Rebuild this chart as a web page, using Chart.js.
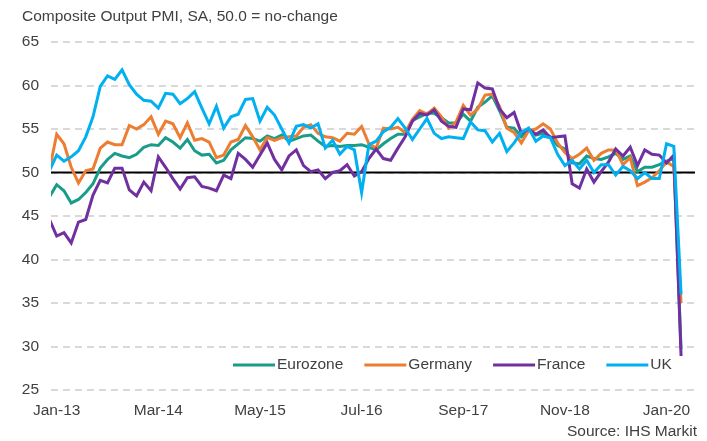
<!DOCTYPE html>
<html><head><meta charset="utf-8">
<script src="https://cdn.jsdelivr.net/npm/chart.js@4.4.1/dist/chart.umd.min.js"></script>
<style>html,body{margin:0;padding:0;background:#fff;}canvas{display:block;}</style>
</head><body>
<canvas id="c" width="707" height="441"></canvas>
<script>
const months = [
  'Dec-12',
  'Jan-13','Feb-13','Mar-13','Apr-13','May-13','Jun-13','Jul-13','Aug-13','Sep-13','Oct-13','Nov-13','Dec-13',
  'Jan-14','Feb-14','Mar-14','Apr-14','May-14','Jun-14','Jul-14','Aug-14','Sep-14','Oct-14','Nov-14','Dec-14',
  'Jan-15','Feb-15','Mar-15','Apr-15','May-15','Jun-15','Jul-15','Aug-15','Sep-15','Oct-15','Nov-15','Dec-15',
  'Jan-16','Feb-16','Mar-16','Apr-16','May-16','Jun-16','Jul-16','Aug-16','Sep-16','Oct-16','Nov-16','Dec-16',
  'Jan-17','Feb-17','Mar-17','Apr-17','May-17','Jun-17','Jul-17','Aug-17','Sep-17','Oct-17','Nov-17','Dec-17',
  'Jan-18','Feb-18','Mar-18','Apr-18','May-18','Jun-18','Jul-18','Aug-18','Sep-18','Oct-18','Nov-18','Dec-18',
  'Jan-19','Feb-19','Mar-19','Apr-19','May-19','Jun-19','Jul-19','Aug-19','Sep-19','Oct-19','Nov-19','Dec-19',
  'Jan-20','Feb-20','Mar-20'
];
const tickLabels = ['Jan-13','Mar-14','May-15','Jul-16','Sep-17','Nov-18','Jan-20'];

const eurozone = [47.2,
  48.6,47.9,46.5,46.9,47.7,48.7,50.5,51.5,52.2,51.9,51.7,52.1,
  52.9,53.2,53.1,54.0,53.5,52.8,53.8,52.5,52.0,52.1,51.1,51.4,
  52.6,53.3,54.0,53.9,53.6,54.2,53.9,54.3,53.6,53.9,54.2,54.3,
  53.6,53.0,53.1,53.0,53.1,53.1,53.2,52.9,52.6,53.3,53.9,54.4,
  54.4,56.0,56.4,56.8,56.8,56.3,55.7,55.7,56.7,55.9,57.5,58.1,
  58.8,57.1,55.2,55.1,54.1,54.9,54.3,54.5,54.1,53.1,52.7,51.1,
  51.0,51.9,51.6,51.5,51.8,52.2,51.5,51.9,50.1,50.6,50.6,50.9,
  51.3,51.6,29.7];
const germany = [50.3,
  54.4,53.3,50.6,48.8,50.2,50.4,52.8,53.5,53.2,53.2,55.4,55.0,
  55.5,56.4,54.4,55.9,55.6,54.0,55.7,53.7,53.9,53.5,51.7,52.0,
  53.5,53.8,55.4,54.1,52.6,54.0,53.7,54.0,54.1,54.2,55.2,55.5,
  54.5,54.1,54.0,53.6,54.5,54.4,55.3,53.3,52.8,55.1,55.0,55.2,
  54.6,56.1,57.1,56.7,57.4,56.4,55.1,55.8,57.7,56.6,57.3,58.9,
  59.0,57.6,55.1,54.6,53.4,54.8,55.0,55.6,55.0,53.4,52.3,51.6,
  52.1,52.8,51.4,52.2,52.6,52.6,50.9,51.7,48.5,48.9,49.4,50.2,
  51.2,50.7,35.0];
const france = [44.6,
  42.7,43.1,41.9,44.3,44.6,47.4,49.1,48.8,50.5,50.5,48.0,47.3,
  48.9,47.9,51.8,50.6,49.3,48.1,49.4,49.5,48.4,48.2,47.9,49.7,
  49.3,52.2,51.5,50.6,52.0,53.4,51.5,50.3,51.9,52.6,50.8,50.1,
  50.3,49.3,50.0,50.2,50.9,49.6,50.1,51.6,52.7,51.6,51.4,52.8,
  54.1,55.9,56.8,56.6,57.2,55.9,55.3,55.2,57.3,57.2,60.3,59.7,
  59.6,57.3,56.3,56.9,54.5,55.0,54.4,54.9,54.0,54.1,54.2,48.7,
  48.2,50.4,48.9,50.1,51.2,52.7,51.9,52.9,50.8,52.6,52.1,52.0,
  51.1,52.0,28.9];
const uk = [50.2,
  52.0,51.3,51.8,52.5,54.1,56.4,59.9,61.1,60.7,61.8,60.1,59.0,
  58.3,58.2,57.4,59.1,59.0,57.9,58.5,59.3,57.4,55.6,57.6,55.1,
  56.4,56.7,58.4,58.5,55.9,57.5,56.6,55.0,53.4,55.3,55.5,55.1,
  55.6,52.8,53.7,52.1,53.0,52.6,47.7,53.2,53.6,54.7,55.2,56.2,
  55.1,53.8,55.0,56.2,54.5,53.9,54.1,54.0,53.9,55.8,54.9,54.8,
  53.5,54.5,52.4,53.4,54.6,55.1,53.6,54.2,54.0,52.1,50.8,51.4,
  50.4,51.4,50.0,50.9,50.9,49.7,50.7,50.2,49.3,50.0,49.3,49.3,
  53.3,53.0,36.0];

const seriesNames = ['Eurozone','Germany','France','UK'];
const seriesValues = [eurozone, germany, france, uk];
const seriesColors = ['#1A9C8A','#ED7D31','#7030A0','#00B0F0'];
const titleText = 'Composite Output PMI, SA, 50.0 = no-change';
const sourceText = 'Source: IHS Markit';
const FONT_FAMILY = '"Liberation Sans", Arial, Helvetica, sans-serif';
const FONT_SIZE = 15.5;
const TEXT_COLOR = '#404040';

const textPlugin = {
  id: 'texts',
  beforeDatasetsDraw(chart) {
    const {ctx, chartArea, scales} = chart;
    const y = scales.y.getPixelForValue(50);
    ctx.save();
    ctx.strokeStyle = '#000000';
    ctx.lineWidth = 2;
    ctx.beginPath();
    ctx.moveTo(chartArea.left, y);
    ctx.lineTo(chartArea.right, y);
    ctx.stroke();
    ctx.restore();
  },
  afterDraw(chart) {
    const {ctx} = chart;
    ctx.save();
    ctx.font = FONT_SIZE + 'px ' + FONT_FAMILY;
    ctx.fillStyle = TEXT_COLOR;
    ctx.textBaseline = 'middle';
    ctx.textAlign = 'left';
    ctx.fillText(titleText, 22, 17);
    ctx.textAlign = 'right';
    ctx.fillText(sourceText, 697, 432);
    ctx.textAlign = 'left';
    let x = 233;
    const ly = 365;
    chart.data.datasets.forEach(ds => {
      ctx.strokeStyle = ds.borderColor;
      ctx.lineWidth = 3;
      ctx.beginPath();
      ctx.moveTo(x, ly);
      ctx.lineTo(x + 42, ly);
      ctx.stroke();
      ctx.fillStyle = TEXT_COLOR;
      ctx.fillText(ds.label, x + 44, ly);
      x += 44 + ctx.measureText(ds.label).width + 21;
    });
    ctx.restore();
  }
};

new Chart(document.getElementById('c'), {
  type: 'line',
  data: {
    datasets: seriesNames.map((name, k) => ({
      label: name,
      data: seriesValues[k].map((v, i) => ({x: i, y: v})),
      borderColor: seriesColors[k],
      backgroundColor: seriesColors[k],
      borderWidth: 3,
      pointRadius: 0,
      tension: 0,
      clip: 0,
      order: seriesNames.length - k
    }))
  },
  options: {
    responsive: false,
    animation: false,
    layout: {padding: {top: 42, right: 12, bottom: 0, left: 0}},
    plugins: {legend: {display: false}, tooltip: {enabled: false}, title: {display: false}},
    scales: {
      x: {
        type: 'linear',
        min: 0.215,
        max: 88.92,
        afterBuildTicks(scale) {
          scale.ticks = tickLabels.map(l => ({value: months.indexOf(l)}));
        },
        afterFit(scale) { scale.height = 51; },
        grid: {display: false, drawTicks: false},
        border: {display: false},
        ticks: {
          autoSkip: false, maxRotation: 0, padding: 11,
          color: TEXT_COLOR, font: {family: FONT_FAMILY, size: FONT_SIZE},
          callback: (v) => months[v]
        }
      },
      y: {
        min: 25, max: 65,
        afterFit(scale) { scale.width = 51; },
        grid: {color: '#D9D9D9', lineWidth: 2, drawTicks: false},
        border: {display: false, dash: [7, 5]},
        ticks: {
          stepSize: 5, padding: 12,
          color: TEXT_COLOR, font: {family: FONT_FAMILY, size: FONT_SIZE}
        }
      }
    }
  },
  plugins: [textPlugin]
});
</script>
</body></html>
